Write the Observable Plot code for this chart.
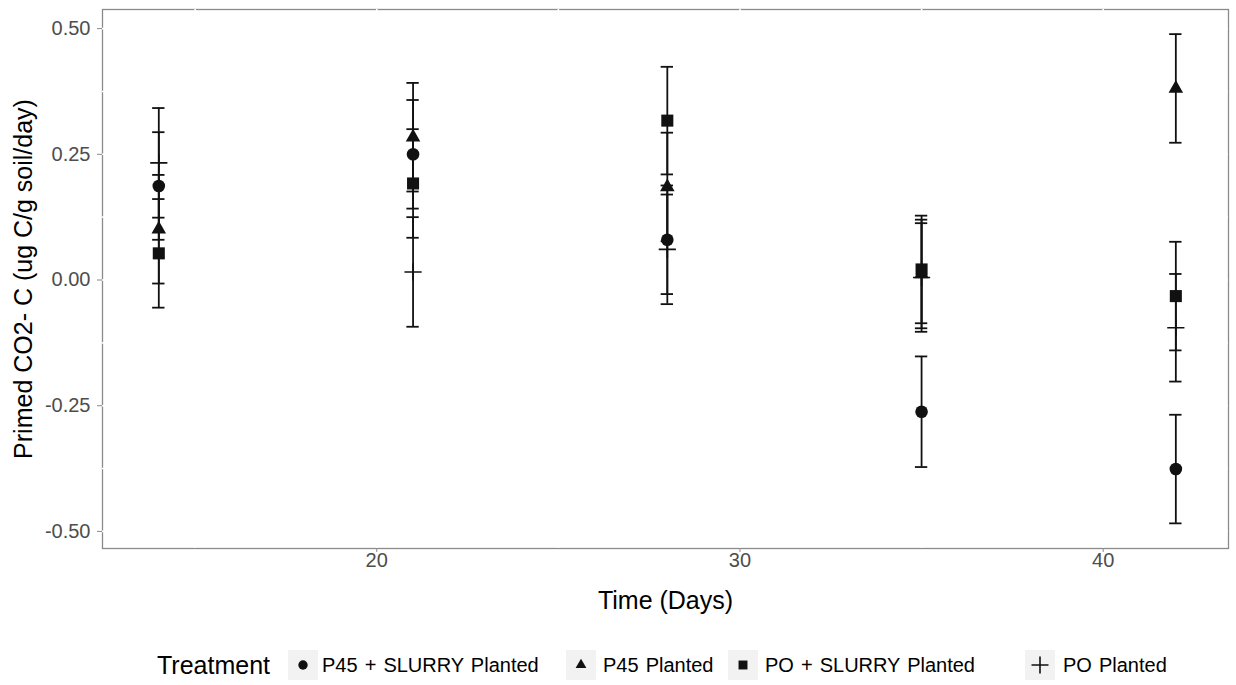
<!DOCTYPE html>
<html>
<head>
<meta charset="utf-8">
<script src="https://cdn.jsdelivr.net/npm/d3@7"></script>
<script src="https://cdn.jsdelivr.net/npm/@observablehq/plot@0.6"></script>
<style>
  html, body { margin: 0; padding: 0; background: #fff; }
  body { width: 1236px; height: 685px; overflow: hidden; font-family: "Liberation Sans", Arial, sans-serif; }
  #chart svg { display: block; }
  #legend { position: relative; height: 60px; }
  #legend > * { position: absolute; top: 40px; transform: translateY(-50%); white-space: nowrap; }
  #legend .title { font-size: 25px; color: #000; }
  #legend .key { width: 30px; height: 30px; background: #f2f2f2; }
  #legend .key svg { display: block; }
  #legend .lab { font-size: 20px; color: #000; word-spacing: 1.5px; }
</style>
</head>
<body>
<div id="chart"></div>
<div id="legend"></div>
<script>
// Sampling days
const days = [14, 21, 28, 35, 42];

// Treatments, in legend order
const treatments = ["P45 + SLURRY Planted", "P45 Planted", "PO + SLURRY Planted", "PO Planted"];

// Mean primed CO2-C (ug C/g soil/day) per day, and standard errors
const meanP45Slurry = [0.187, 0.250, 0.080, -0.262, -0.376];
const seP45Slurry   = [0.107, 0.108, 0.108, 0.110, 0.108];

const meanP45 = [0.101, 0.284, 0.185, 0.012, 0.381];
const seP45   = [0.108, 0.108, 0.108, 0.108, 0.108];

const meanPOSlurry = [0.053, 0.192, 0.317, 0.021, -0.032];
const sePOSlurry   = [0.108, 0.108, 0.107, 0.107, 0.108];

const meanPO = [0.233, 0.016, 0.061, 0.005, -0.095];
const sePO   = [0.109, 0.109, 0.109, 0.108, 0.107];

// Axis ticks and grid positions
const xTicks = [20, 30, 40];
const yTicks = [-0.5, -0.25, 0, 0.25, 0.5];
const xGrid = [15, 20, 25, 30, 35, 40];
const yGrid = [-0.5, -0.375, -0.25, -0.125, 0, 0.125, 0.25, 0.375, 0.5];

const means = [meanP45Slurry, meanP45, meanPOSlurry, meanPO];
const ses = [seP45Slurry, seP45, sePOSlurry, sePO];

const rows = [];
treatments.forEach((t, i) => {
  days.forEach((d, j) => {
    rows.push({treatment: t, day: d, mean: means[i][j], se: ses[i][j]});
  });
});

// A thin stroked "+" like ggplot's shape 3
const plusSymbol = {
  draw(context, size) {
    const h = Math.sqrt(size / Math.PI);
    context.moveTo(-h, 0); context.lineTo(h, 0);
    context.moveTo(0, -h); context.lineTo(0, h);
  }
};

const shapes = {
  "P45 + SLURRY Planted": {symbol: d3.symbolCircle, r: 6.3},
  "P45 Planted": {symbol: d3.symbolTriangle, r: 5.4},
  "PO + SLURRY Planted": {symbol: d3.symbolSquare, r: 6.8},
  "PO Planted": {symbol: plusSymbol, r: 8.6}
};

const capHalf = 0.17; // half width of the error-bar caps, in days
const ink = "#111";

const pointMarks = treatments.map(t => {
  const s = shapes[t];
  const data = rows.filter(r => r.treatment === t);
  return t === "PO Planted"
    ? Plot.dot(data, {x: "day", y: "mean", symbol: () => s.symbol, r: s.r, fill: "none", stroke: ink, strokeWidth: 1.6})
    : Plot.dot(data, {x: "day", y: "mean", symbol: () => s.symbol, r: s.r, fill: ink, stroke: "none"});
});

const chart = Plot.plot({
  width: 1236,
  height: 625,
  marginTop: 9,
  marginBottom: 77,
  marginLeft: 102,
  marginRight: 8,
  style: {fontFamily: "'Liberation Sans', Arial, sans-serif", background: "#fff"},
  x: {domain: [12.45, 43.45]},
  y: {domain: [-0.534, 0.538]},
  symbol: {type: "identity"},
  marks: [
    Plot.frame({stroke: "#8a8a8a", strokeWidth: 1.3}),
    Plot.gridX(xGrid, {stroke: "#fff", strokeOpacity: 1, strokeWidth: 1.6}),
    Plot.gridY(yGrid, {stroke: "#fff", strokeOpacity: 1, strokeWidth: 1.6}),
    Plot.axisX({
      ticks: xTicks, tickSize: 4, tickPadding: 0, tickFormat: d => String(d),
      stroke: "#8a8a8a", color: "#4d4d4d", fontSize: 20,
      label: null
    }),
    Plot.axisX({
      ticks: [], tickSize: 0, label: "Time (Days)", labelAnchor: "center", labelArrow: "none",
      labelOffset: 60, fontSize: 25, color: "#000"
    }),
    Plot.axisY({
      ticks: yTicks, tickSize: 5, tickPadding: 7, tickFormat: d => d.toFixed(2),
      stroke: "#8a8a8a", color: "#4d4d4d", fontSize: 20,
      label: null
    }),
    Plot.axisY({
      ticks: [], tickSize: 0, label: "Primed CO2- C (ug C/g soil/day)", labelAnchor: "center", labelArrow: "none",
      labelOffset: 88, fontSize: 25, color: "#000"
    }),
    // error bars: vertical span and caps
    Plot.ruleX(rows, {x: "day", y1: d => d.mean - d.se, y2: d => d.mean + d.se, stroke: ink, strokeWidth: 1.8}),
    Plot.ruleY(rows, {y: d => d.mean + d.se, x1: d => d.day - capHalf, x2: d => d.day + capHalf, stroke: ink, strokeWidth: 1.8}),
    Plot.ruleY(rows, {y: d => d.mean - d.se, x1: d => d.day - capHalf, x2: d => d.day + capHalf, stroke: ink, strokeWidth: 1.8}),
    ...pointMarks
  ]
});
document.getElementById("chart").appendChild(chart);

// Legend row: title, then a key and a label per treatment
const legendTitleLeft = 157;
const keyCenters = [303, 581, 743, 1040];
const labelLefts = [322, 603, 765, 1063];

const legend = document.getElementById("legend");
const title = document.createElement("span");
title.className = "title";
title.textContent = "Treatment";
title.style.left = legendTitleLeft + "px";
legend.appendChild(title);
treatments.forEach((t, i) => {
  const s = shapes[t];
  const key = document.createElement("span");
  key.className = "key";
  key.style.left = (keyCenters[i] - 15) + "px";
  const svg = d3.create("svg").attr("width", 30).attr("height", 30).attr("viewBox", "-15 -15 30 30");
  if (t === "PO Planted") {
    svg.append("path").attr("d", d3.symbol(s.symbol, Math.PI * 8.5 * 8.5)()).attr("fill", "none").attr("stroke", ink).attr("stroke-width", 1.6);
  } else {
    svg.append("path").attr("d", d3.symbol(s.symbol, Math.PI * s.r * s.r * 0.55)()).attr("fill", ink);
  }
  key.appendChild(svg.node());
  legend.appendChild(key);
  const lab = document.createElement("span");
  lab.className = "lab";
  lab.textContent = t;
  lab.style.left = labelLefts[i] + "px";
  legend.appendChild(lab);
});
</script>
</body>
</html>
